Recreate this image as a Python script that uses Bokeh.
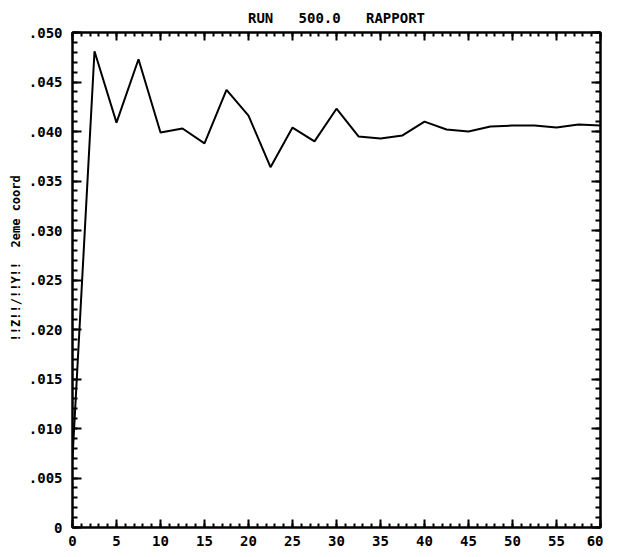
from bokeh.plotting import figure
from bokeh.models import LinearAxis, FixedTicker, CustomJSTickFormatter, Range1d
from bokeh.embed import file_html
from bokeh.resources import INLINE

# Data
x_vals = [0, 2.5, 5, 7.5, 10, 12.5, 15, 17.5, 20, 22.5, 25, 27.5, 30,
          32.5, 35, 37.5, 40, 42.5, 45, 47.5, 50, 52.5, 55, 57.5, 60]
y_vals = [0.0070, 0.0481, 0.0409, 0.0473, 0.0399, 0.0403, 0.0388, 0.0442,
          0.0416, 0.0364, 0.0404, 0.0390, 0.0423, 0.0395, 0.0393, 0.0396,
          0.0410, 0.0402, 0.0400, 0.0405, 0.0406, 0.0406, 0.0404, 0.0407,
          0.0406]

x_major = [0, 5, 10, 15, 20, 25, 30, 35, 40, 45, 50, 55, 60]
x_minor = list(range(0, 61))
y_major = [0, 0.005, 0.010, 0.015, 0.020, 0.025, 0.030, 0.035, 0.040, 0.045, 0.050]
y_minor = [round(i * 0.001, 3) for i in range(0, 51)]

NB = "\u00a0"
title_text = "RUN" + NB * 3 + "500.0" + NB * 3 + "RAPPORT"
y_label = NB * 6 + "!!Z!!/!!Y!!" + NB * 2 + "2eme" + NB + "coord"

FONT = "DejaVu Sans Mono"

p = figure(width=603, height=548, output_backend="svg", toolbar_location=None,
           x_range=Range1d(0, 60), y_range=Range1d(0, 0.05),
           title=title_text, x_axis_location=None, y_axis_location=None,
           min_border_left=72, min_border_right=3, min_border_top=26,
           min_border_bottom=20)

p.title.align = "center"
p.title.text_font = FONT
p.title.text_font_style = "bold"
p.title.text_font_size = "14px"
p.title.text_color = "black"
p.title.offset = 0
p.title.standoff = 14

p.xgrid.visible = False
p.ygrid.visible = False
p.outline_line_color = "black"
p.outline_line_width = 2
p.background_fill_color = "white"
p.border_fill_color = "white"

def style(ax, major_len, minor_len):
    ax.axis_line_color = "black"
    ax.axis_line_width = 2
    ax.major_tick_line_color = "black"
    ax.minor_tick_line_color = "black"
    ax.major_tick_line_width = 2
    ax.minor_tick_line_width = 2
    ax.major_tick_in = major_len
    ax.major_tick_out = 0
    ax.minor_tick_in = minor_len
    ax.minor_tick_out = 0
    ax.major_label_text_font = FONT
    ax.major_label_text_font_style = "bold"
    ax.major_label_text_font_size = "14px"
    ax.major_label_text_color = "black"

xt = FixedTicker(ticks=x_major, minor_ticks=x_minor)
yt = FixedTicker(ticks=y_major, minor_ticks=y_minor)

xb = LinearAxis(ticker=xt)
style(xb, 8, 4)
xb.major_label_standoff = 8
p.add_layout(xb, "below")

xa = LinearAxis(ticker=FixedTicker(ticks=x_major, minor_ticks=x_minor),
                formatter=CustomJSTickFormatter(code="return ''"))
style(xa, 8, 4)
xa.major_label_text_font_size = "1px"
xa.major_label_standoff = 0
p.add_layout(xa, "above")

yl = LinearAxis(ticker=yt,
                formatter=CustomJSTickFormatter(
                    code="return tick < 1e-9 ? '0' : tick.toFixed(3).replace(/^0/, '');"))
style(yl, 9, 5)
yl.major_label_standoff = 10
yl.axis_label = y_label
yl.axis_label_text_font = FONT
yl.axis_label_text_font_style = "bold"
yl.axis_label_text_font_size = "12px"
yl.axis_label_text_color = "black"
yl.axis_label_standoff = 3
p.add_layout(yl, "left")

yr = LinearAxis(ticker=FixedTicker(ticks=y_major, minor_ticks=y_minor),
                formatter=CustomJSTickFormatter(code="return ''"))
style(yr, 9, 5)
yr.major_label_text_font_size = "1px"
yr.major_label_standoff = 0
p.add_layout(yr, "right")

p.line(x_vals, y_vals, line_color="black", line_width=2)

open("out.html", "w").write(file_html(p, INLINE))
